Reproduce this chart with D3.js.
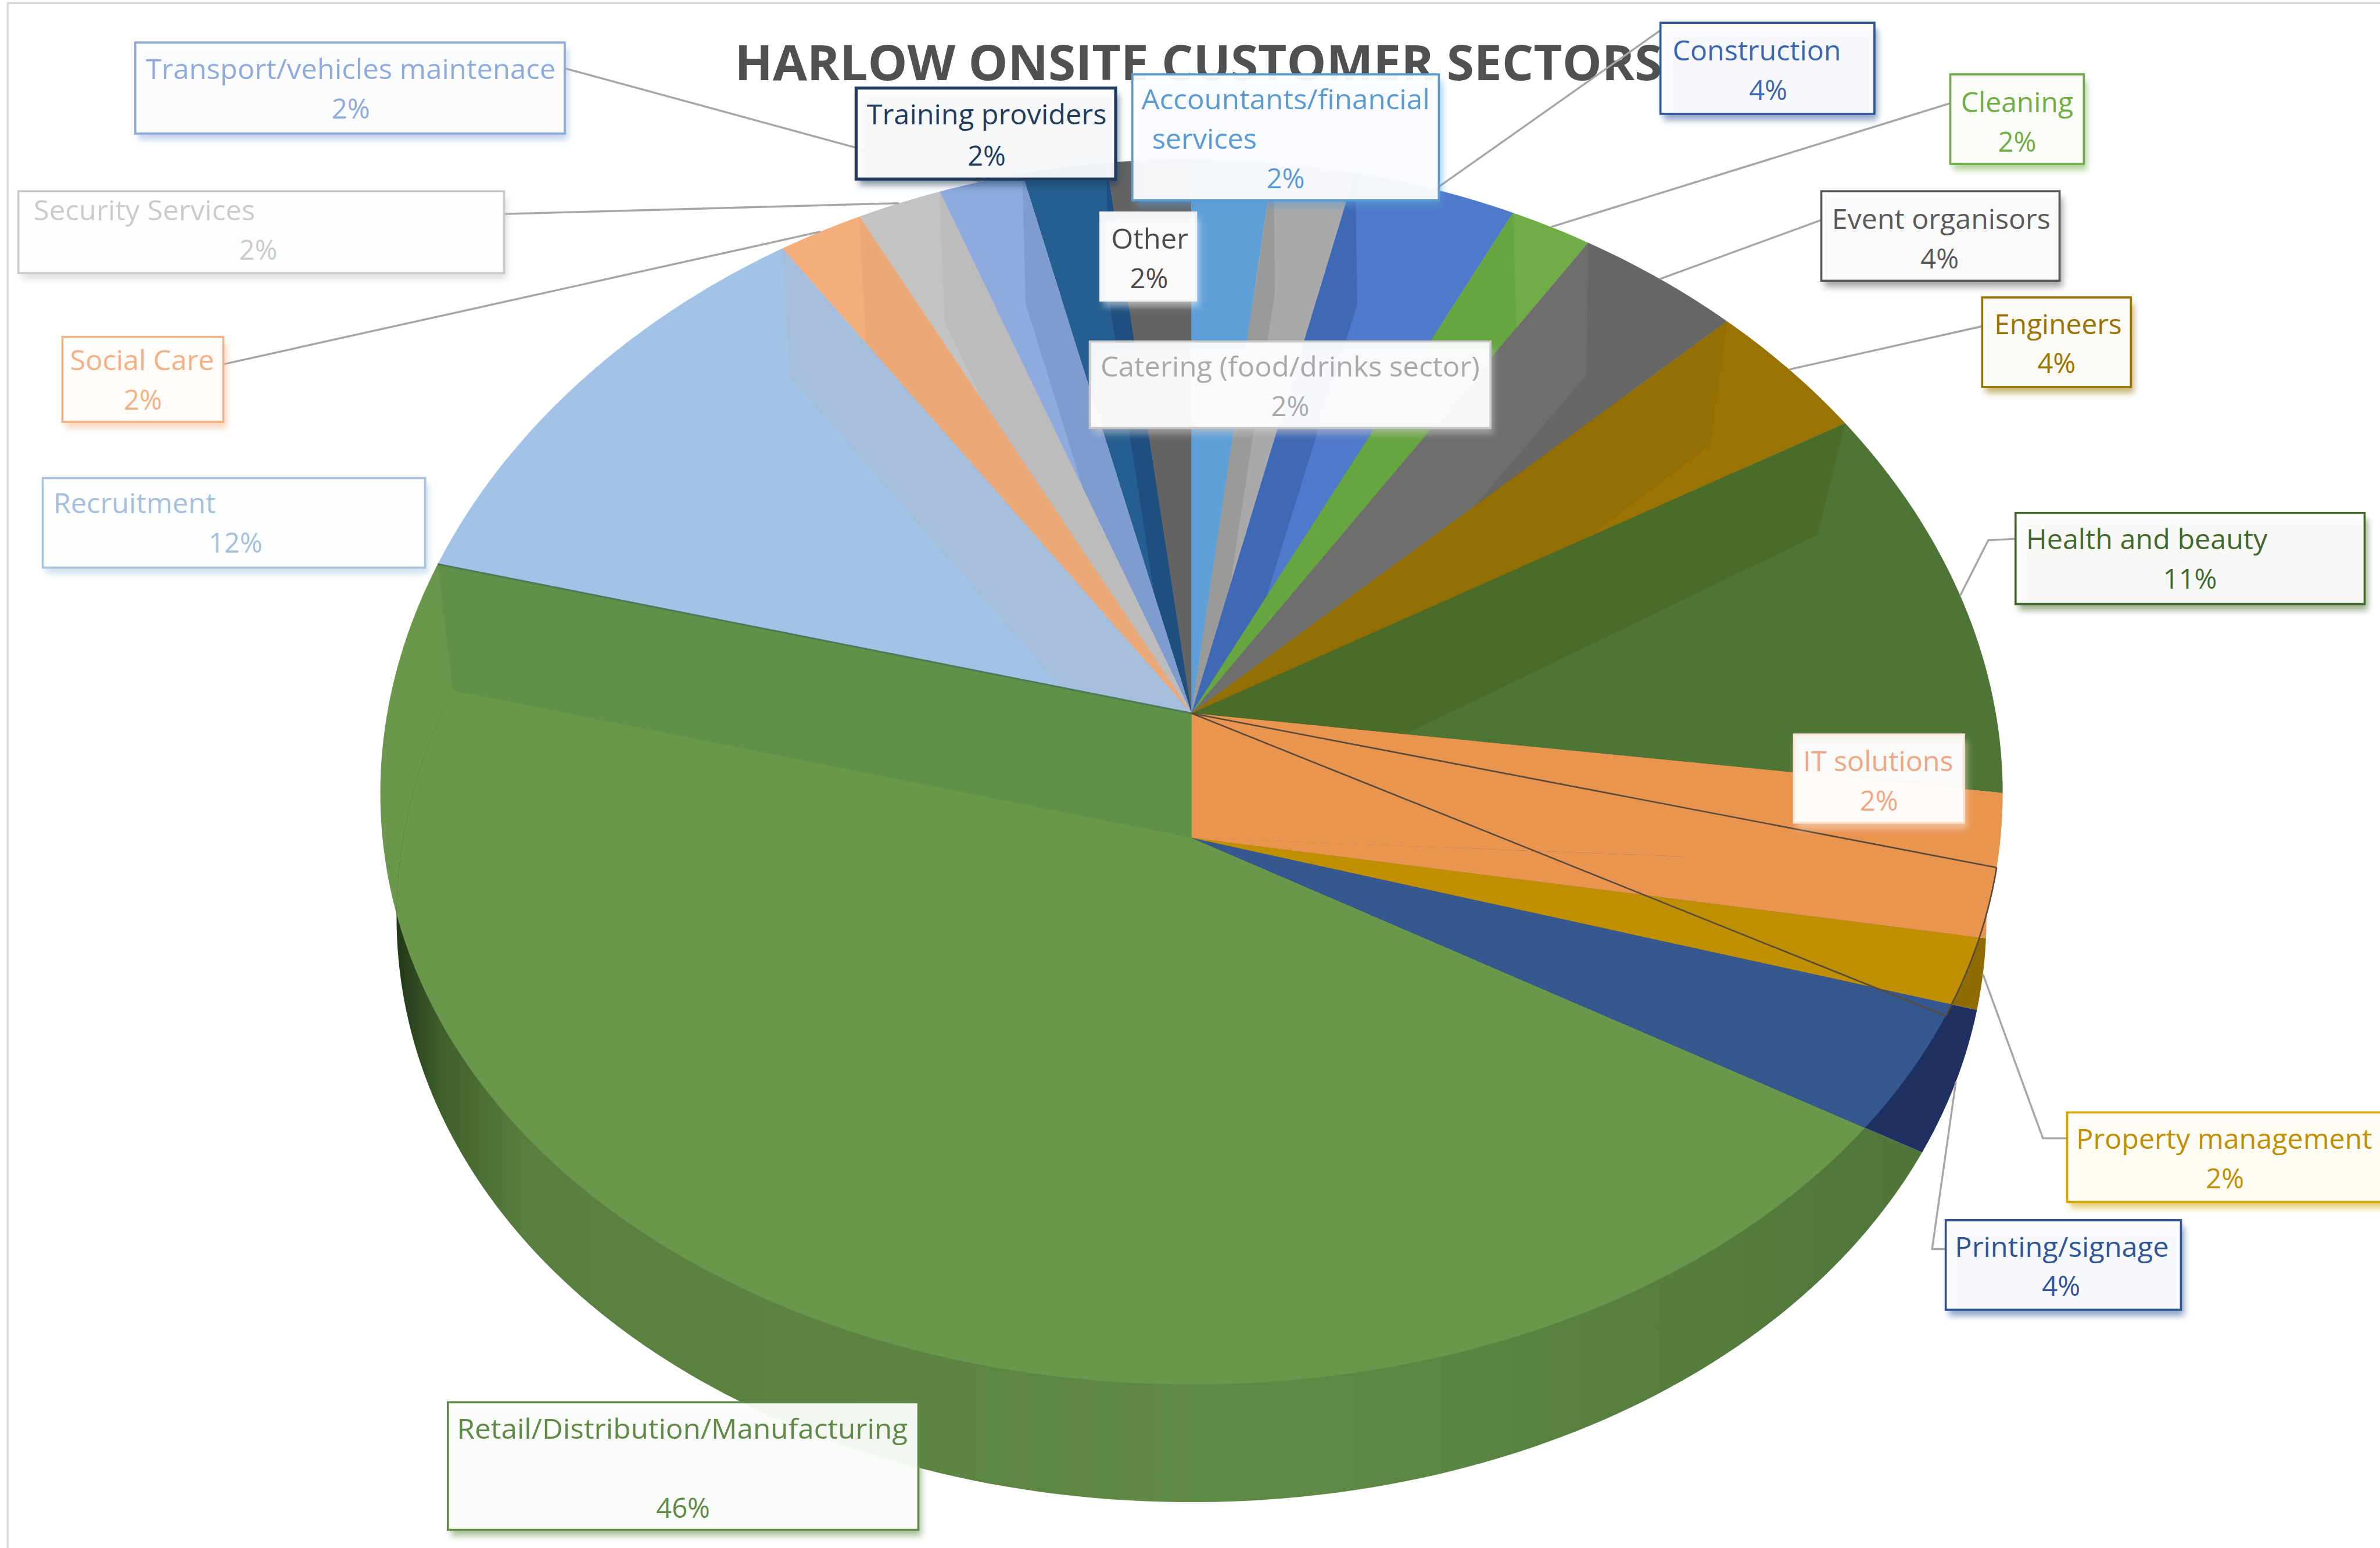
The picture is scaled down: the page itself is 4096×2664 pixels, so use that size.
<!DOCTYPE html>
<html>
<head>
<meta charset="utf-8">
<script src="https://cdn.jsdelivr.net/npm/d3@7"></script>
<style>
html,body{margin:0;padding:0;background:#fff;overflow:hidden}
svg{display:block}
text{font-family:"Open Sans","Noto Sans",sans-serif}
</style>
</head>
<body>
<svg id="chart" width="4096" height="2664" viewBox="0 0 1568 1020"></svg>
<script>
// Customer sectors, clockwise from twelve o'clock
const categories = ["Accountants/financial services","Catering (food/drinks sector)","Construction","Cleaning",
  "Event organisors","Engineers","Health and beauty","IT solutions","Property management","Printing/signage",
  "Retail/Distribution/Manufacturing","Recruitment","Social Care","Security Services",
  "Transport/vehicles maintenace","Training providers","Other"];
const shares = [2,2,4,2,4,4,11,2,2,4,46,12,2,2,2,2,2];

// Slice paint
const faceColours = ["#5f9fd8","#a9a9a9","#4f7acb","#70ad47","#666664","#9a7305","#4f7536","#e99550","#bf8f00","#34588f","#6a974b","#a2c2e6","#f4ae7c","#c3c3c3","#8faadc","#255e91","#636363"];
const wallColours = ["#5f9fd8","#9a9a98","#3f68b5","#66a53f","#6e6e6c","#936e03","#4b6b29","#e99550","#bf8f00","#34588f","#609146","#a4bedb","#eba878","#bcbcbc","#7f9ccf","#1f4f7f","#595959"];
const labelInk = ["#5b9bd5","#a9a9a9","#3a66b0","#70ad47","#595959","#997300","#43682b","#f0a583","#bf8f00","#2f5597","#5f8a45","#a5bfdc","#f4b183","#cbcbcb","#8faadc","#1f3c5f","#4a4a4a"];
const boxEdge = ["#5b9bd5","#c8c8c8","#2f5597","#70ad47","#595959","#997300","#43682b","#fbe5d6","#d6a300","#2f5597","#5f8a45","#a9c4e2","#f4b183","#c9c9c9","#8faadc","#1f3c5f","#f2f2f2"];

// Label layout: box corners, first-line start, first-line width, percent centre
const labelLayout = [
  {box:[746,49,948,132], x:752, y:72, w:190, px:847, py:124, extra:{x:759,y:98,w:69,t:"services"}, name:"Accountants/financial"},
  {box:[718,225,982,282], x:725, y:248, w:250, px:850, py:274},
  {box:[1094,15,1235,75], x:1102, y:40, w:111, px:1165, py:66, lead:[[1094,20]]},
  {box:[1285,49,1373,108], x:1292, y:74, w:74, px:1329, py:100, lead:[[1285,68]]},
  {box:[1200,126,1357,185], x:1207, y:151, w:144, px:1278, py:177, lead:[[1200,145]]},
  {box:[1306,196,1404,255], x:1314, y:220, w:84, px:1355, py:246, lead:[[1306,215]]},
  {box:[1328,338,1558,398], x:1335, y:362, w:159, px:1443, py:388, lead:[[1328,355],[1310,356]]},
  {box:[1182,484,1294,542], x:1188, y:508, w:99, px:1238, py:534},
  {box:[1362,733,1572,792], x:1368, y:757, w:195, px:1466, py:783, lead:[[1362,750],[1346,750]]},
  {box:[1282,804,1437,863], x:1288, y:828, w:141, px:1358, py:854, lead:[[1282,823],[1273,823]]},
  {box:[295,924,605,1008], x:301, y:948, w:297, px:450, py:1000},
  {box:[28,315,280,374], x:35, y:338, w:107, px:155, py:364},
  {box:[41,222,147,278], x:46, y:244, w:95, px:94, py:270, lead:[[147,240]]},
  {box:[12,126,332,180], x:22, y:145, w:146, px:170, py:171, lead:[[332,141]]},
  {box:[89,28,372,88], x:96, y:52, w:270, px:231, py:78, lead:[[372,45]]},
  {box:[564,58,735,118], x:571, y:82, w:158, px:650, py:109},
  {box:[725,140,788,198], x:732, y:164, w:51, px:757, py:190}
];

const svg = d3.select("#chart");
const rad = Math.PI / 180;

// Perspective view of the disc: the upper plane pivots on the hub, the lower plane sits below it
const hub = {x:785, yTop:470, yFloor:552};
const disc = {a:530, b:400, kx:0.13, ky:0.0955, floorX:0.98, floorY:0.99};
function project(angle, leanDeg, scaleX, scaleY, yOrigin){
  const phi = angle - leanDeg * rad;
  const u = Math.sin(phi), v = -Math.cos(phi);
  return [hub.x + scaleX * disc.a * u / (1 - disc.kx * v),
          yOrigin + scaleY * disc.b * v / (1 - disc.ky * v)];
}
const topRim = a => project(a, 2 * Math.max(0, Math.sin(a)), 1, 1, hub.yTop);
const floorRim = a => project(a, 7 * Math.max(0, Math.sin(a - 30 * rad)), disc.floorX, disc.floorY, hub.yFloor);
const lineGen = d3.line();
function arcPoints(fn, a0, a1){
  const n = Math.max(2, Math.ceil(Math.abs(a1 - a0) / rad));
  return d3.range(n + 1).map(i => fn(a0 + (a1 - a0) * i / n));
}
const topWedge = d => lineGen([[hub.x, hub.yTop], ...arcPoints(topRim, d.startAngle, d.endAngle)]) + "Z";
const floorWedge = d => lineGen([[hub.x, hub.yFloor], ...arcPoints(floorRim, d.startAngle, d.endAngle)]) + "Z";
const wall = a => lineGen([[hub.x, hub.yTop], topRim(a), floorRim(a), [hub.x, hub.yFloor]]) + "Z";

const pie = d3.pie().sort(null).value(d => d)(shares);
const slices = pie.map((d, i) => ({...d, i, name:categories[i]}));

const defs = svg.append("defs");
defs.append("clipPath").attr("id", "upperDisc").append("path")
  .attr("d", lineGen(arcPoints(topRim, 0, 2 * Math.PI)) + "Z");
const sideGrad = defs.append("linearGradient").attr("id", "sideShade")
  .attr("gradientUnits", "userSpaceOnUse").attr("x1", 255).attr("x2", 1260).attr("y1", 0).attr("y2", 0);
[[0,"#1c2f15"],[0.035,"#3f5f2a"],[0.09,"#587f3f"],[0.6,"#5f8a45"],[1,"#4f7639"]]
  .forEach(s => sideGrad.append("stop").attr("offset", s[0]).attr("stop-color", s[1]));
defs.append("filter").attr("id", "soft").attr("x", "-10%").attr("y", "-20%").attr("width", "120%").attr("height", "140%")
  .append("feGaussianBlur").attr("stdDeviation", 2.2);

// Frame of the chart area
svg.append("rect").attr("x", 5).attr("y", 2).attr("width", 1580).attr("height", 1040)
  .attr("fill", "#fff").attr("stroke", "#d9d9d9").attr("stroke-width", 1.4);

const pieLayer = svg.append("g");
function paint(path, fill, clipped){
  const p = pieLayer.append("path").attr("d", path).attr("fill", fill);
  if (clipped) p.attr("clip-path", "url(#upperDisc)");
}

// Far slices, outermost first on each side of twelve o'clock
const leftFan = [16,15,14,13,12,11];
const rightFan = [0,1,2,3,4,5,6];
leftFan.forEach(i => {
  const s = slices[i];
  paint(topWedge(s), faceColours[i]);
  paint(floorWedge(s), faceColours[i], true);
  paint(wall(s.endAngle), wallColours[i]);
});
rightFan.forEach(i => {
  const s = slices[i];
  paint(topWedge(s), faceColours[i]);
  paint(floorWedge(s), faceColours[i], true);
  paint(wall(s.startAngle), wallColours[i]);
});

// Near slices: upper faces, the cut wall of IT solutions, then the lower plane with its rim
const [it, property, printing, retail] = [7,8,9,10].map(i => slices[i]);
[retail, printing].forEach(s => paint(topWedge(s), faceColours[s.i]));
paint(topWedge({startAngle:it.startAngle, endAngle:property.endAngle}), faceColours[it.i]);
paint(wall(it.startAngle), wallColours[it.i]);
paint(floorWedge(retail), "url(#sideShade)");
paint(floorWedge(retail), faceColours[retail.i], true);
paint(floorWedge(printing), "#1f3160");
paint(floorWedge(printing), faceColours[printing.i], true);
paint(floorWedge(property), "#8f6b00");
paint(floorWedge(property), faceColours[property.i], true);
paint(floorWedge(it), faceColours[it.i]);
paint(wall(retail.endAngle), wallColours[retail.i]);

// Fine edge where the Retail wall meets Recruitment
pieLayer.append("path").attr("d", lineGen([[hub.x, hub.yTop], topRim(retail.endAngle)]))
  .attr("fill", "none").attr("stroke", "#4f7a5a").attr("stroke-width", 1.2);

// Fine outlines of the near slices on the upper plane
const outlineEnd = property.endAngle + 7 * rad;
[it.endAngle, outlineEnd].forEach(a => {
  pieLayer.append("path").attr("d", lineGen([[hub.x, hub.yTop], topRim(a)]))
    .attr("fill", "none").attr("stroke", "#5a4a3a").attr("stroke-width", 1);
});
pieLayer.append("path").attr("d", lineGen(arcPoints(topRim, it.endAngle, outlineEnd)))
  .attr("fill", "none").attr("stroke", "#5a4a3a").attr("stroke-width", 1);

// Title sits behind the leader lines and labels
svg.append("text").attr("x", 484).attr("y", 53)
  .attr("textLength", 611).attr("lengthAdjust", "spacingAndGlyphs")
  .attr("font-size", 32).attr("font-weight", 700).attr("fill", "#505050")
  .text("HARLOW ONSITE CUSTOMER SECTORS");

// Leader lines run from a label to its slice's rim
const leaders = svg.append("g");
slices.forEach(s => {
  const l = labelLayout[s.i];
  if (!l.lead) return;
  const mid = (s.startAngle + s.endAngle) / 2;
  const end = Math.cos(mid) < 0 ? floorRim(mid) : topRim(mid);
  leaders.append("path").attr("d", lineGen([...l.lead, end]))
    .attr("fill", "none").attr("stroke", "#a6a6a6").attr("stroke-width", 1.3);
});

// Label boxes with their soft shadow, name and percent
const labels = svg.append("g");
const order = [14,13,12,11,10,9,8,7,6,5,4,3,2,1,16,15,0];
order.forEach(i => {
  const l = labelLayout[i], [x0,y0,x1,y1] = l.box;
  labels.append("rect").attr("x", x0 + 2).attr("y", y0 + 4).attr("width", x1 - x0).attr("height", y1 - y0)
    .attr("fill", boxEdge[i]).attr("opacity", 0.55).attr("filter", "url(#soft)");
  labels.append("rect").attr("x", x0).attr("y", y0).attr("width", x1 - x0).attr("height", y1 - y0)
    .attr("fill", "#fff").attr("fill-opacity", 0.93)
    .attr("stroke", boxEdge[i]).attr("stroke-width", i === 15 ? 2 : 1.4);
  const line = (t, x, y, w) => labels.append("text").attr("x", x).attr("y", y)
    .attr("textLength", w).attr("lengthAdjust", "spacingAndGlyphs")
    .attr("font-size", 18).attr("fill", labelInk[i]).text(t);
  line(l.name || categories[i], l.x, l.y, l.w);
  if (l.extra) line(l.extra.t, l.extra.x, l.extra.y, l.extra.w);
  labels.append("text").attr("x", l.px).attr("y", l.py).attr("text-anchor", "middle")
    .attr("font-size", 18).attr("fill", labelInk[i]).text(shares[i] + "%");
});
</script>
</body>
</html>
